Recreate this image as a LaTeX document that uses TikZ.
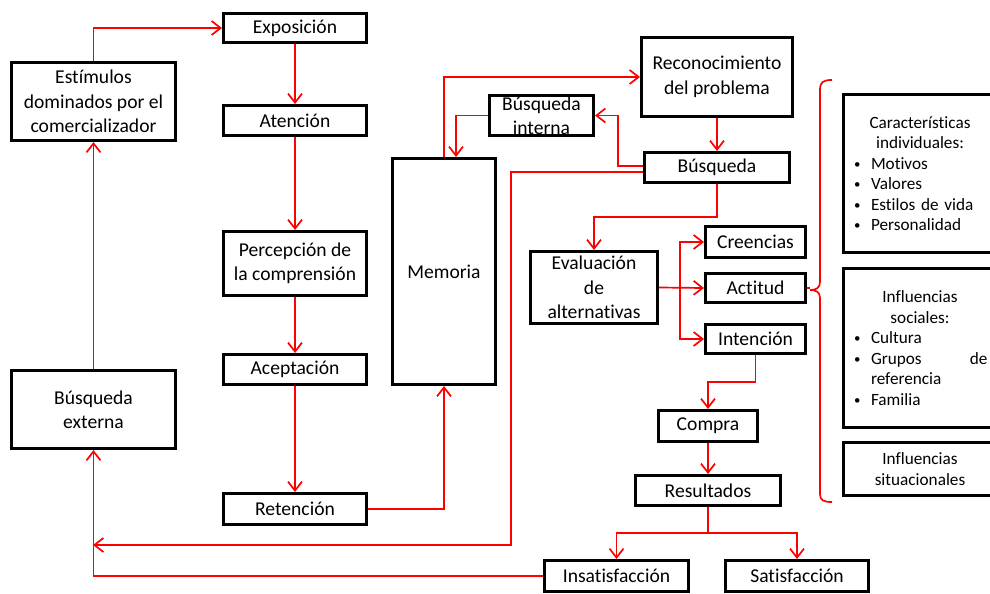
\documentclass[tikz,border=0pt]{standalone}
\usepackage{fontspec}
\setmainfont{Carlito}[Ligatures=NoCommon]
\usetikzlibrary{arrows.meta}
\setlength\parindent{0pt}
% small bullet with a fixed hanging width for the list entries
\newcommand\itm{\makebox[9.25pt][l]{\hspace{0.8pt}\raisebox{0.35pt}{\scalebox{0.75}{\textbullet}}}}

\begin{document}
\begin{tikzpicture}[x=0.5pt,y=-0.5pt,
  box/.style={draw=black, line width=1.5pt, inner sep=0pt, align=center,
    font=\fontsize{9.8pt}{12.2pt}\selectfont},
  lbl/.style={inner sep=0pt, align=center, font=\fontsize{9.8pt}{12.2pt}\selectfont},
  info/.style={draw=black, line width=1.5pt, inner sep=0pt, text width=67.5pt,
    minimum width=76.5pt, font=\fontsize{8.6pt}{10.25pt}\selectfont},
  link/.style={draw=red, line width=0.85pt},
  arr/.style={link, -{Straight Barb[length=4.5pt,width=7pt,line width=0.85pt]}}]

\useasboundingbox (0,0) rectangle (990,594);
\clip (0,0) rectangle (990,594);

% ---- left column: perception process ----
\node[box, minimum width=71.5pt, minimum height=14.5pt] (expo)  at (295,28)    {Exposición};
\node[box, minimum width=71.5pt, minimum height=15pt]   (aten)  at (295,120.5) {Atención};
\node[box, minimum width=71.5pt, minimum height=32pt]   (perc)  at (295,263.5) {Percepción de\\la comprensión};
\node[box, minimum width=71.5pt, minimum height=15pt]   (acep)  at (295,369.5) {Aceptación};
\node[box, minimum width=71.5pt, minimum height=15.5pt] (ret)   at (295,509)   {Retención};
\node[box, minimum width=82pt, minimum height=39pt]     (estim) at (93.5,101.5) {Estímulos\\dominados por el\\comercializador};
\node[box, minimum width=82pt, minimum height=39pt]     (bext)  at (93.5,409.5) {Búsqueda\\externa};
\node[box, minimum width=51.5pt, minimum height=113pt]  (mem)   at (444,271.5) {Memoria};

% ---- decision process ----
\node[box, minimum width=75.5pt, minimum height=39.5pt] (recon) at (717,77)    {Reconocimiento\\del problema};
\node[box, minimum width=52pt, minimum height=20pt]     (bint)  at (541.5,115.5) {};
\node[lbl] (bintlbl) at (bint.center) {Búsqueda\\interna};
\node[box, minimum width=72.5pt, minimum height=15pt]   (busq)  at (717,167.5) {Búsqueda};
\node[box, minimum width=63.5pt, minimum height=36pt]   (eval)  at (594,287.5) {Evaluación\\de\\alternativas};
\node[box, minimum width=50pt, minimum height=15.5pt]   (cre)   at (755.5,242) {Creencias};
\node[box, minimum width=50pt, minimum height=14.5pt]   (act)   at (755.5,288) {Actitud};
\node[box, minimum width=50pt, minimum height=14.5pt]   (inte)  at (755.5,339) {Intención};
\node[box, minimum width=49.5pt, minimum height=15.5pt] (comp)  at (708,426)   {Compra};
\node[box, minimum width=72.5pt, minimum height=15pt]   (res)   at (708,490.5) {Resultados};
\node[box, minimum width=72pt, minimum height=15.5pt]   (insat) at (616.5,576) {Insatisfacción};
\node[box, minimum width=71.5pt, minimum height=15.5pt] (sat)   at (797,576)   {Satisfacción};

% ---- influences ----
\node[info, minimum height=79pt] (car) at (920,173.5) {%
  {\centering Características\\individuales:\par}
  \raggedright
  \itm Motivos\\
  \itm Valores\\
  \itm Estilos de vida\\
  \itm Personalidad};
\node[info, minimum height=79.5pt] (soc) at (920,348) {%
  {\centering Influencias\\sociales:\par}
  \raggedright
  \itm Cultura\\
  \itm Grupos\hfill de\\
  \hspace*{9.25pt}referencia\\
  \itm Familia};
\node[info, minimum height=26.5pt] (sit) at (920,469) {%
  {\centering Influencias\\situacionales\par}};

% ---- connectors ----
\draw[arr] (estim.north) |- (expo.west);
\draw[arr] (expo) -- (aten);
\draw[arr] (aten) -- (perc);
\draw[arr] (perc) -- (acep);
\draw[arr] (acep) -- (ret);
\draw[arr] (ret.east) -| (mem.south);
\draw[arr] (bext) -- (estim);
\draw[arr] (mem.north) |- (recon.west);
\draw[arr] (bint.west) -| ([xshift=6pt]mem.north);
\draw[arr] ([yshift=0.75pt]busq.west) -- ++(-25,0) |- (bint.east);
\draw[arr] (recon) -- (busq);
\draw[arr] (busq.south) -- ++(0,33) -| (eval.north);

\coordinate (extin) at (93,545);
\draw[arr] ([yshift=-2.25pt]busq.west) -- ++(-132,0) |- (extin);
\draw[arr] (insat.west) -| (bext.south);

\draw[arr] (eval.east) -- (act.west);
\coordinate (split) at (680,288);
\draw[arr] (split) |- (cre.west);
\draw[arr] (split) |- (inte.west);
\draw[arr] (inte.south) -- ++(0,27) -| (comp.north);
\draw[arr] (comp) -- (res);
\draw[arr] (res.south) -- ++(0,26) -| (insat.north);
\draw[arr] (res.south) -- ++(0,26) -| (sat.north);

% brace gathering the influences
\coordinate (bracetip) at (810,290);
\draw[link] (act.east) -- (act.east -| bracetip);
\draw[link] (832,80) .. controls (823,80) and (820,82) .. (820,90) -- (820,282)
  .. controls (820,288) and (816,290) .. (bracetip)
  .. controls (816,290) and (820,292) .. (820,298) -- (820,494)
  .. controls (820,500) and (823,502) .. (832,502);
\end{tikzpicture}
\end{document}
